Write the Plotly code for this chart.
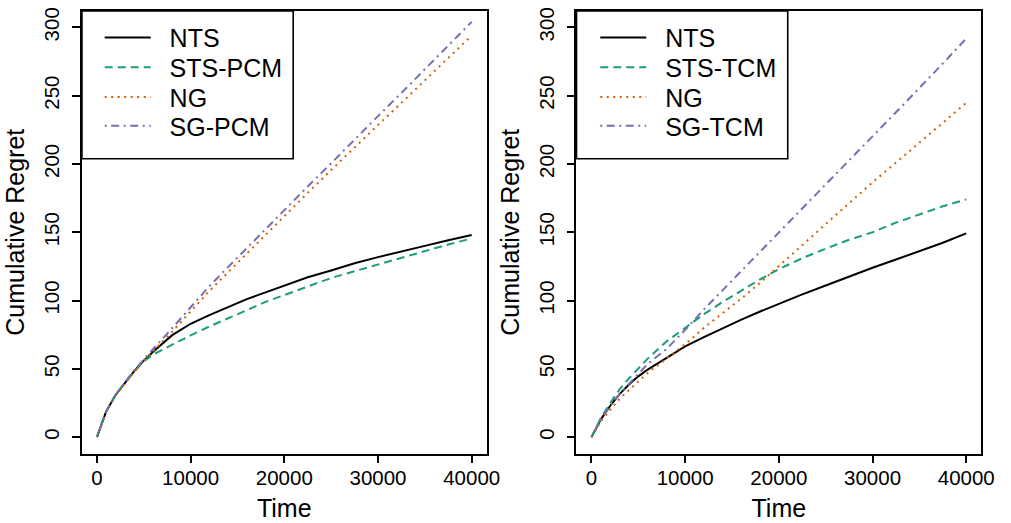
import plotly.graph_objects as go

# ---------------- data ----------------
time = [0, 1000, 2000, 3000, 4000, 5000, 6000, 8000, 10000, 12000, 14000, 16000,
        18000, 20000, 22500, 25000, 27500, 30000, 32500, 35000, 37500, 40000]

# left panel (PCM)
nts_pcm = [0, 19, 31, 40, 48.5, 56, 62.5, 74.5, 83, 89.3, 95.3, 101, 106, 111,
           117, 122, 127.3, 131.8, 135.7, 140, 144.2, 148]
sts_pcm = [0, 19, 31, 40, 48, 55.5, 60.5, 67.7, 74.5, 81, 87, 93.5, 99, 104,
           110.5, 116.5, 121.5, 126.5, 131.5, 136.5, 141, 145.5]
ng_pcm = [0, 19, 30.5, 39.5, 48, 56, 63, 77, 92, 107, 120.7, 134.5, 148.3, 162,
          178.8, 195.5, 212.2, 228.5, 244.7, 261, 277.4, 294]
sg_pcm = [0, 19, 31, 40.5, 49, 57, 64.5, 79.5, 95, 110.5, 124.5, 138.5, 152.5,
          166.5, 183.5, 200.5, 218, 235, 252, 269.5, 286.5, 304]

# right panel (TCM)
nts_tcm = [0, 13, 23, 31.5, 38.5, 44.5, 49.5, 58, 66.5, 73.2, 79.8, 86, 92, 97.8,
           104.5, 111, 117.7, 124, 130, 136, 142.3, 149.2]
sts_tcm = [0, 14, 25, 35, 43, 50.5, 57.5, 70, 80, 90, 99, 107.5, 115.5, 123,
           131, 138, 144.5, 150, 157, 163, 169, 174]
ng_tcm = [0, 11.5, 20, 28, 34.5, 41, 47, 57.5, 68, 80, 90.5, 101.5, 113, 125,
          140.5, 156, 171.5, 186.5, 201, 215.5, 230, 244.7]
sg_tcm = [0, 13, 23, 31.5, 39, 46, 53.5, 64.5, 78.5, 93.5, 107.5, 121.5, 135.5,
          149.7, 167.3, 185, 202.6, 220.2, 237.8, 255.5, 273.5, 291.8]

names_left = ["NTS", "STS-PCM", "NG", "SG-PCM"]
names_right = ["NTS", "STS-TCM", "NG", "SG-TCM"]

x_ticks = [0, 10000, 20000, 30000, 40000]
x_ticktext = ["0", "10000", "20000", "30000", "40000"]
y_ticks = [0, 50, 100, 150, 200, 250, 300]
y_ticktext = ["0", "50", "100", "150", "200", "250", "300"]

# ---------------- styling ----------------
FONT = "Liberation Sans, Arial, sans-serif"
colors = ["#000000", "#1B9E77", "#D95F02", "#7570B3"]
dashes = ["solid", "8px,5px", "2px,4.5px", "2px,4.5px,8px,4.5px"]
LW = 2.0
W, H = 1011, 523

# panel pixel geometry
left_dom = [83 / W, 493 / W]
right_dom = [584 / W, 994 / W]
y_dom = [1 - 453 / H, 1 - 7 / H]

fig = go.Figure()

legend_rows = [34, 64, 94, 123]
legend_x = {"left": 106, "right": 608}

series_left = [nts_pcm, sts_pcm, ng_pcm, sg_pcm]
series_right = [nts_tcm, sts_tcm, ng_tcm, sg_tcm]

idx = 1
for panel, series, names, xa, ya in [("left", series_left, names_left, "x", "y"),
                                     ("right", series_right, names_right, "x2", "y2")]:
    for i, (vals, nm) in enumerate(zip(series, names)):
        lg = "legend" if idx == 1 else f"legend{idx}"
        fig.add_trace(go.Scatter(
            x=time, y=vals, mode="lines", name="\u00a0\u00a0" + nm,
            line=dict(color=colors[i], width=LW, dash=dashes[i]),
            xaxis=xa, yaxis=ya, legend=lg, showlegend=True))
        fig.update_layout(**{lg: dict(
            x=(legend_x[panel] - 5) / W, y=1 - legend_rows[i] / H,
            xanchor="left", yanchor="middle",
            bgcolor="rgba(0,0,0,0)", borderwidth=0,
            itemwidth=46,
            font=dict(family=FONT, size=25, color="black"))})
        idx += 1

axis_common = dict(showline=True, mirror=True, linecolor="black", linewidth=1.6,
                   ticks="outside", ticklen=8, tickwidth=1.6, tickcolor="black",
                   showgrid=False, zeroline=False,
                   tickfont=dict(family=FONT, size=20.5, color="black"),
                   title_font=dict(family=FONT, size=25, color="black"))

xcommon = dict(axis_common, range=[-1600, 41600], tickvals=x_ticks, ticktext=x_ticktext,
               ticklabelstandoff=-3, title_text="Time", title_standoff=12)
ycommon = dict(axis_common, range=[-12, 312], tickvals=y_ticks, ticktext=y_ticktext,
               tickangle=-90, ticklabelstandoff=5,
               title_text="Cumulative Regret", title_standoff=8)

fig.update_layout(
    xaxis=dict(xcommon, domain=left_dom, anchor="y"),
    yaxis=dict(ycommon, domain=y_dom, anchor="x"),
    xaxis2=dict(xcommon, domain=right_dom, anchor="y2"),
    yaxis2=dict(ycommon, domain=y_dom, anchor="x2"),
)

# legend frames
for xr, yr in [("x domain", "y domain"), ("x2 domain", "y2 domain")]:
    fig.add_shape(type="rect", xref=xr, yref=yr, x0=0, x1=(297 - 83) / 410,
                  y0=(453 - 156) / 446, y1=1,
                  line=dict(color="black", width=1.6), fillcolor="rgba(0,0,0,0)")

fig.update_layout(width=W, height=H, margin=dict(l=0, r=0, t=0, b=0),
                  plot_bgcolor="white", paper_bgcolor="white",
                  font=dict(family=FONT, color="black"))

fig.write_html("out.html")
